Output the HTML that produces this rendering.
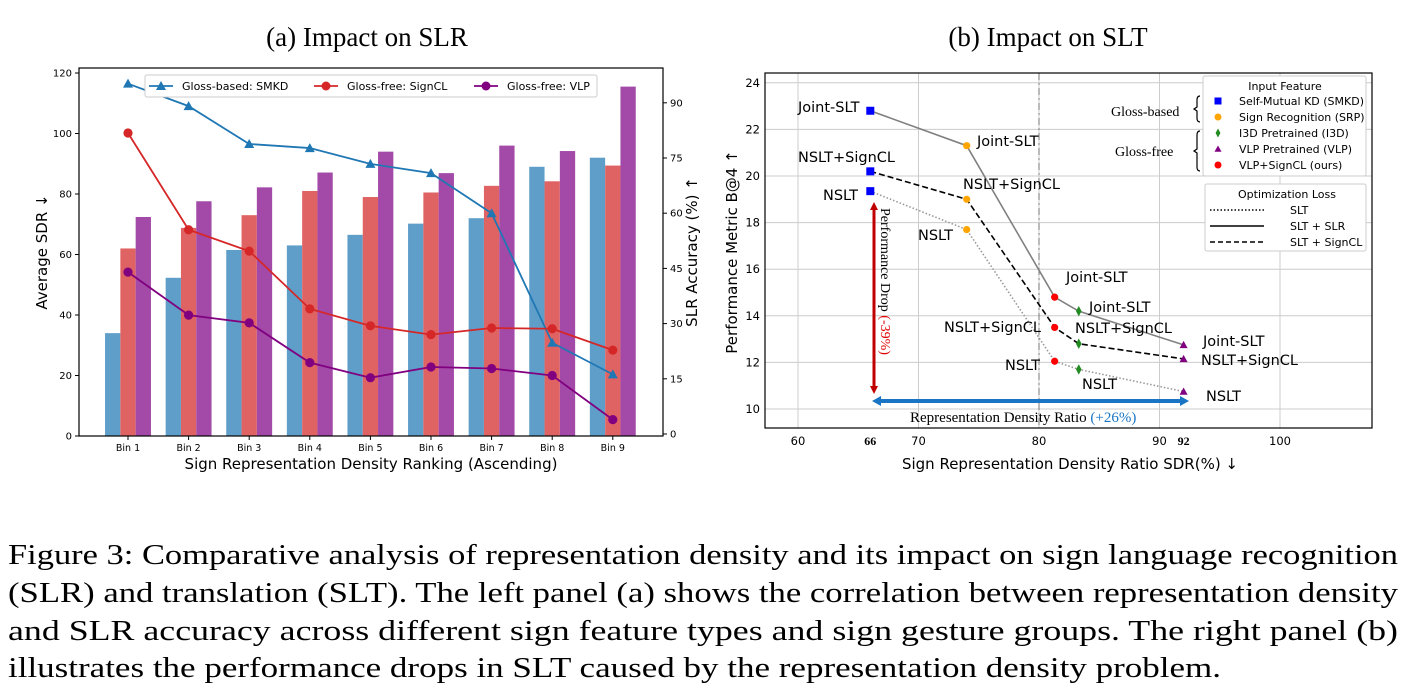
<!DOCTYPE html>
<html><head><meta charset="utf-8"><style>
html,body{margin:0;padding:0;background:#fff;width:1406px;height:695px;overflow:hidden}
svg text{font-family:"DejaVu Sans","Liberation Sans",sans-serif}
.serif{font-family:"Liberation Serif",serif !important}
</style></head><body>
<svg id="fig" width="1406" height="695" viewBox="0 0 1406 695" xmlns="http://www.w3.org/2000/svg">
<text class="serif" x="367" y="46" font-size="27" text-anchor="middle">(a) Impact on SLR</text>
<text class="serif" x="1048" y="46" font-size="27" text-anchor="middle">(b) Impact on SLT</text>
<g id="left"></g>
<g id="right"></g>
<g class="serif" font-size="29">
<text class="serif" x="8" y="564" textLength="1390" lengthAdjust="spacingAndGlyphs">Figure 3: Comparative analysis of representation density and its impact on sign language recognition</text>
<text class="serif" x="8" y="602" textLength="1390" lengthAdjust="spacingAndGlyphs">(SLR) and translation (SLT). The left panel (a) shows the correlation between representation density</text>
<text class="serif" x="8" y="640" textLength="1390" lengthAdjust="spacingAndGlyphs">and SLR accuracy across different sign feature types and sign gesture groups. The right panel (b)</text>
<text class="serif" x="8" y="677" textLength="1213" lengthAdjust="spacingAndGlyphs">illustrates the performance drops in SLT caused by the representation density problem.</text>
</g>
</svg>
<script>
// ---- left chart data ----
const bins = ["Bin 1","Bin 2","Bin 3","Bin 4","Bin 5","Bin 6","Bin 7","Bin 8","Bin 9"];
const sdrSMKD = [34,52.3,61.5,63,66.5,70.2,72,89,92];
const sdrSignCL = [62,68.8,73,81,79,80.5,82.7,84.2,89.4];
const sdrVLP = [72.4,77.6,82.2,87.1,94,86.9,96,94.2,115.5];
const accSMKD = [95.2,89.1,78.8,77.7,73.4,70.9,60,24.8,16.2];
const accSignCL = [81.8,55.5,49.7,34,29.4,27,28.8,28.6,22.8];
const accVLP = [44,32.3,30.2,19.4,15.3,18.2,17.8,15.9,3.9];
const leftTicks = [0,20,40,60,80,100,120];
const rightTicks = [0,15,30,45,60,75,90];
// ---- right chart data ----
const sdrX = [66,74,81.3,83.3,92];
const jointSLT = [22.8,21.3,14.8,14.2,12.75];
const nsltSignCL = [20.2,19.0,13.5,12.8,12.15];
const nslt = [19.35,17.7,12.05,11.7,10.75];
const xTicksB = [60,70,80,90,100];
const yTicksB = [10,12,14,16,18,20,22,24];

const NS="http://www.w3.org/2000/svg";
function mk(parent,tag,attrs,text){const e=document.createElementNS(NS,tag);for(const k in attrs)e.setAttribute(k,attrs[k]);if(text!==undefined)e.textContent=text;parent.appendChild(e);return e;}

// ===== LEFT =====
const L=document.getElementById('left');
const lx0=79,lx1=663,ly0=68,ly1=436;
const yL=v=>436-v*3.025;
const yR=v=>434-v*3.68;
const xC=i=>128+i*60.6;
const bw=15.3;
const barSeries=[[sdrSMKD,'#5f9ec9',-1],[sdrSignCL,'#e06363',0],[sdrVLP,'#a34aa8',1]];
barSeries.forEach(([arr,col,off],si)=>{
  arr.forEach((v,i)=>{
    const r=mk(L,'rect',{x:xC(i)+off*bw-bw/2,y:yL(v),width:bw,height:yL(0)-yL(v),fill:col});
    
    
  });
});
mk(L,'rect',{x:lx0,y:ly0,width:lx1-lx0,height:ly1-ly0,fill:'none',stroke:'#000','stroke-width':1.2});
leftTicks.forEach(t=>{const y=yL(t);mk(L,'line',{x1:lx0-4,x2:lx0,y1:y,y2:y,stroke:'#000'});
  const tx=mk(L,'text',{x:lx0-7,y:y+3.5,'font-size':10,'text-anchor':'end'},t);});
rightTicks.forEach(t=>{const y=yR(t);mk(L,'line',{x1:lx1,x2:lx1+4,y1:y,y2:y,stroke:'#000'});
  const tx=mk(L,'text',{x:lx1+7,y:y+3.5,'font-size':10},t);});
bins.forEach((b,i)=>{mk(L,'line',{x1:xC(i),x2:xC(i),y1:ly1,y2:ly1+4,stroke:'#000'});
  const tx=mk(L,'text',{x:xC(i),y:ly1+15,'font-size':9.5,'text-anchor':'middle'},b);});
let t1=mk(L,'text',{x:371,y:469,'font-size':15,'text-anchor':'middle'},'Sign Representation Density Ranking (Ascending)');
let t2=mk(L,'text',{x:0,y:0,'font-size':15,'text-anchor':'middle',transform:'translate(47,252) rotate(-90)'},'Average SDR ↓');
let t3=mk(L,'text',{x:0,y:0,'font-size':15,'text-anchor':'middle',transform:'translate(697,252) rotate(-90)'},'SLR Accuracy (%) ↑');
function marker(g,type,x,y,col,s){
  if(type==='tri')return mk(g,'polygon',{points:`${x},${y-s} ${x-s},${y+s*0.8} ${x+s},${y+s*0.8}`,fill:col});
  if(type==='sq')return mk(g,'rect',{x:x-s,y:y-s,width:2*s,height:2*s,fill:col});
  if(type==='dia')return mk(g,'polygon',{points:`${x},${y-s*1.3} ${x-s*0.7},${y} ${x},${y+s*1.3} ${x+s*0.7},${y}`,fill:col});
  return mk(g,'circle',{cx:x,cy:y,r:s,fill:col});
}
[[accSMKD,'#1f77b4','tri','smkd'],[accSignCL,'#d62728','circ','signcl'],[accVLP,'#800080','circ','vlp']].forEach(([arr,col,m,n])=>{
  const p=mk(L,'polyline',{points:arr.map((v,i)=>xC(i)+','+yR(v)).join(' '),fill:'none',stroke:col,'stroke-width':1.8});
  
  arr.forEach((v,i)=>{const e=marker(L,m,xC(i),yR(v),col,m==='tri'?5:4.6);});
});
// legend
const lg=mk(L,'g',{});
mk(lg,'rect',{x:145,y:75,width:452,height:22,fill:'#fff',stroke:'#ccc',rx:2});
[['Gloss-based: SMKD','#1f77b4','tri',149],['Gloss-free: SignCL','#d62728','circ',314],['Gloss-free: VLP','#800080','circ',474]].forEach(([lab,col,m,x])=>{
  mk(lg,'line',{x1:x,x2:x+24,y1:86,y2:86,stroke:col,'stroke-width':1.8});marker(lg,m,x+12,86,col,m==='tri'?5:4.5);
  mk(lg,'text',{x:x+33,y:90,'font-size':11},lab);
});

// ===== RIGHT =====
const R=document.getElementById('right');
const rx0=765,rx1=1372,ry0=73,ry1=428;
const xB=v=>798+(v-60)*12.05;
const yB=v=>409-(v-10)*23.3;
xTicksB.forEach(t=>{mk(R,'line',{x1:xB(t),x2:xB(t),y1:ry0,y2:ry1,stroke:'#ccc','stroke-width':1});
  const tx=mk(R,'text',{x:xB(t),y:ry1+17,'font-size':11.5,'text-anchor':'middle'},t);});
yTicksB.forEach(t=>{mk(R,'line',{x1:rx0,x2:rx1,y1:yB(t),y2:yB(t),stroke:'#ccc','stroke-width':1});
  const tx=mk(R,'text',{x:rx0-5,y:yB(t)+4,'font-size':11.5,'text-anchor':'end'},t);});
[[66,'66'],[92,'92']].forEach(([v,s])=>{const tx=mk(R,'text',{x:xB(v),y:ry1+17,'font-size':12,'font-weight':'bold','text-anchor':'middle',class:'serif'},s);});
mk(R,'line',{x1:xB(80),x2:xB(80),y1:ry0,y2:ry1,stroke:'#777','stroke-width':1,'stroke-dasharray':'7,3,2,3'});
mk(R,'rect',{x:rx0,y:ry0,width:rx1-rx0,height:ry1-ry0,fill:'none',stroke:'#000','stroke-width':1.2});
let a1=mk(R,'text',{x:1070,y:469,'font-size':15,'text-anchor':'middle'},'Sign Representation Density Ratio SDR(%) ↓');
let a2=mk(R,'text',{x:0,y:0,'font-size':15,'text-anchor':'middle',transform:'translate(737,252) rotate(-90)'},'Performance Metric B@4 ↑');
[[jointSLT,'#808080','', 'joint-slt'],[nsltSignCL,'#000','6,3','nslt-signcl'],[nslt,'#999','1.5,2','nslt']].forEach(([arr,col,da,n])=>{
  const p=mk(R,'polyline',{points:arr.map((v,i)=>xB(sdrX[i])+','+yB(v)).join(' '),fill:'none',stroke:col,'stroke-width':1.6,'stroke-dasharray':da});
  
});
const fCols=['#0000ff','#ffa500','#ff0000','#228b22','#800080'];
const fMk=['sq','circ','circ','dia','tri'];
[jointSLT,nsltSignCL,nslt].forEach((arr,si)=>{arr.forEach((v,i)=>{const e=marker(R,fMk[i],xB(sdrX[i]),yB(v),fCols[i],fMk[i]==='circ'?3.6:4);
  });});
const labs=[['Joint-SLT',798,112],['Joint-SLT',977,146],['NSLT+SignCL',798,162],['NSLT+SignCL',963,189],['NSLT',823,200],['NSLT',918,240],['Joint-SLT',1066,282],['Joint-SLT',1089,312],['NSLT+SignCL',944,332],['NSLT+SignCL',1075,333],['Joint-SLT',1203,346],['NSLT+SignCL',1201,365],['NSLT',1005,370],['NSLT',1082,389],['NSLT',1206,401]];
labs.forEach(([t,x,y])=>{const e=mk(R,'text',{x:x,y:y,'font-size':14.5},t);});
// arrows
mk(R,'line',{x1:874,x2:874,y1:208,y2:388,stroke:'#c00000','stroke-width':3});
mk(R,'polygon',{points:'874,202 870,210 878,210',fill:'#c00000'});mk(R,'polygon',{points:'874,394 870,386 878,386',fill:'#c00000'});
let pd=mk(R,'text',{x:0,y:0,'font-size':14,class:'serif',transform:'translate(881,208) rotate(90)'});
mk(pd,'tspan',{},'Performance Drop ');mk(pd,'tspan',{fill:'#e00000'},'(-39%)');
mk(R,'line',{x1:878,x2:1183,y1:401,y2:401,stroke:'#1a75c4','stroke-width':4});
mk(R,'polygon',{points:'872,401 881,396 881,406',fill:'#1a75c4'});mk(R,'polygon',{points:'1189,401 1180,396 1180,406',fill:'#1a75c4'});
let rd=mk(R,'text',{x:910,y:422,'font-size':15,class:'serif'});
mk(rd,'tspan',{},'Representation Density Ratio  ');mk(rd,'tspan',{fill:'#1a75c4'},'(+26%)');
// legends
const l1=mk(R,'g',{});
mk(l1,'rect',{x:1203,y:76,width:163,height:100,fill:'#fff',stroke:'#ccc',rx:2});
mk(l1,'text',{x:1285,y:90,'font-size':11,'text-anchor':'middle'},'Input Feature');
['Self-Mutual KD (SMKD)','Sign Recognition (SRP)','I3D Pretrained (I3D)','VLP Pretrained (VLP)','VLP+SignCL (ours)'].forEach((s,i)=>{
  const y=101+i*16;const mi=[0,1,3,4,2][i];marker(l1,fMk[mi],1218,y,fCols[mi],3.5);
  mk(l1,'text',{x:1239,y:y+4,'font-size':11},s);});
mk(R,'text',{x:1111,y:116,'font-size':14,class:'serif'},'Gloss-based');
mk(R,'text',{x:1115,y:156,'font-size':14,class:'serif'},'Gloss-free');
mk(R,'path',{d:'M1200,96 q-3,0 -3,4 v7 l-3,2 l3,2 v7 q0,4 3,4',fill:'none',stroke:'#000','stroke-width':1.2});
mk(R,'path',{d:'M1200,131 q-3,0 -3,4 v14 l-3,2 l3,2 v14 q0,4 3,4',fill:'none',stroke:'#000','stroke-width':1.2});
const l2=mk(R,'g',{});
mk(l2,'rect',{x:1205,y:184,width:161,height:67,fill:'#fff',stroke:'#ccc',rx:2});
mk(l2,'text',{x:1287,y:198,'font-size':11,'text-anchor':'middle'},'Optimization Loss');
[['SLT','1.5,2'],['SLT + SLR',''],['SLT + SignCL','5,3']].forEach(([s,da],i)=>{const y=210+i*16;
  mk(l2,'line',{x1:1210,x2:1264,y1:y,y2:y,stroke:'#000','stroke-width':1.4,'stroke-dasharray':da});
  mk(l2,'text',{x:1290,y:y+4,'font-size':11},s);});
</script>
</body></html>
